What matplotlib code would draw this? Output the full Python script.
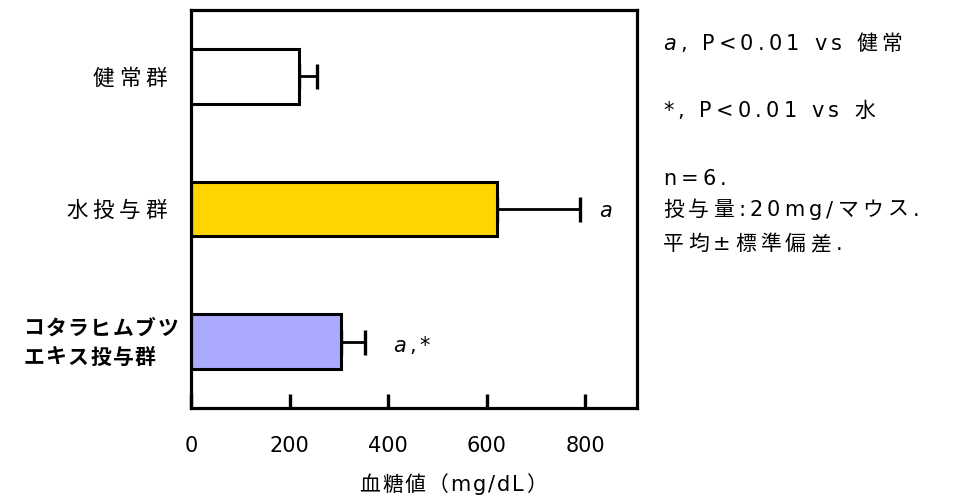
import matplotlib.pyplot as plt

W, H = 959, 496
FAM = ['DejaVu Sans', 'Noto Sans CJK JP']
CJK = ['Noto Sans CJK JP', 'DejaVu Sans']
plt.rcParams['font.family'] = CJK

# --- データ ---
groups = ["健常群", "水投与群", "コタラヒムブツ\nエキス投与群"]
means = [220, 620, 305]
sds = [35, 170, 48]
colors = ["#FFFFFF", "#FFD400", "#AAAAFF"]
marks = ["", "a", "a,*"]
xticks = [0, 200, 400, 600, 800]
notes = ["a, P<0.01 vs 健常", "*, P<0.01 vs 水", "n=6.", "投与量:20mg/マウス.", "平均±標準偏差."]

# マークとエラーバー先端の間隔 (データ単位)
mark_gap = [0, 38, 58]

fig = plt.figure(figsize=(W / 100, H / 100), dpi=100)
ax = fig.add_axes([191 / W, 1 - 408 / H, (637 - 191) / W, (408 - 10) / H])
rend = fig.canvas.get_renderer()


def text_w(s, size, family, weight):
    t = fig.text(0, 0, s, fontsize=size, family=family, weight=weight)
    w = t.get_window_extent(rend).width
    t.remove()
    return w


def spaced(x, y, s, size, track, ha="left", family=FAM, weight="normal", italic=()):
    # 字間を広げて1文字ずつ描く (x, y はピクセル、yは上から、ベースライン)
    total = text_w(s, size, family, weight) + track * (len(s) - 1)
    if ha == "right":
        x -= total
    elif ha == "center":
        x -= total / 2
    for i, ch in enumerate(s):
        if ch == " ":
            continue
        left = text_w(s[:i + 1], size, family, weight) - text_w(ch, size, family, weight) + i * track
        fig.text((x + left) / W, 1 - y / H, ch, fontsize=size, family=family,
                 style="italic" if i in italic else "normal",
                 weight=weight, va="baseline", ha="left")


y = list(range(len(groups)))
ax.barh(y, means, height=0.41, color=colors, edgecolor="black", linewidth=2.2, zorder=2)
ax.errorbar(means, y, xerr=[[0] * 3, sds], fmt="none", ecolor="black",
            elinewidth=2.0, capsize=9, capthick=2.4, zorder=1)

ax.set_xlim(0, 905)
ax.set_ylim(2.5, -0.5)
ax.set_yticks(y)
ax.set_yticklabels([])
ax.tick_params(axis="y", length=0)

ax.set_xticks(xticks)
ax.set_xticklabels([str(v) for v in xticks], fontsize=15, family="DejaVu Sans")
ax.tick_params(axis="x", direction="in", length=10, width=2.4, pad=20)
for sp in ax.spines.values():
    sp.set_linewidth(2.3)

# y軸ラベル
spaced(167, 85, groups[0], 15.5, 5, ha="right", family=CJK)
spaced(167, 217, groups[1], 15.5, 5, ha="right", family=CJK)
l1, l2 = groups[2].split("\n")
spaced(23, 335, l1, 15, 1.5, family=CJK, weight="bold")
spaced(23, 364, l2, 15, 1.5, family=CJK, weight="bold")

# 有意差マーク
for yi, m, s, mk, g in zip(y, means, sds, marks, mark_gap):
    if mk:
        xp = ax.transData.transform((m + s + g, yi))[0]
        spaced(xp, 217 if mk == "a" else 352, mk, 15, 3, italic=(0,))

# x軸ラベル
spaced(453, 491, "血糖値（mg/dL）", 15, 2, ha="center")

# 右側の注釈
for i, (line, base) in enumerate(zip(notes, [50, 117, 185, 216, 250])):
    spaced(663, base, line, 15, 4.2, italic=(0,) if i == 0 else ())

fig.savefig("out.png", dpi=100)
